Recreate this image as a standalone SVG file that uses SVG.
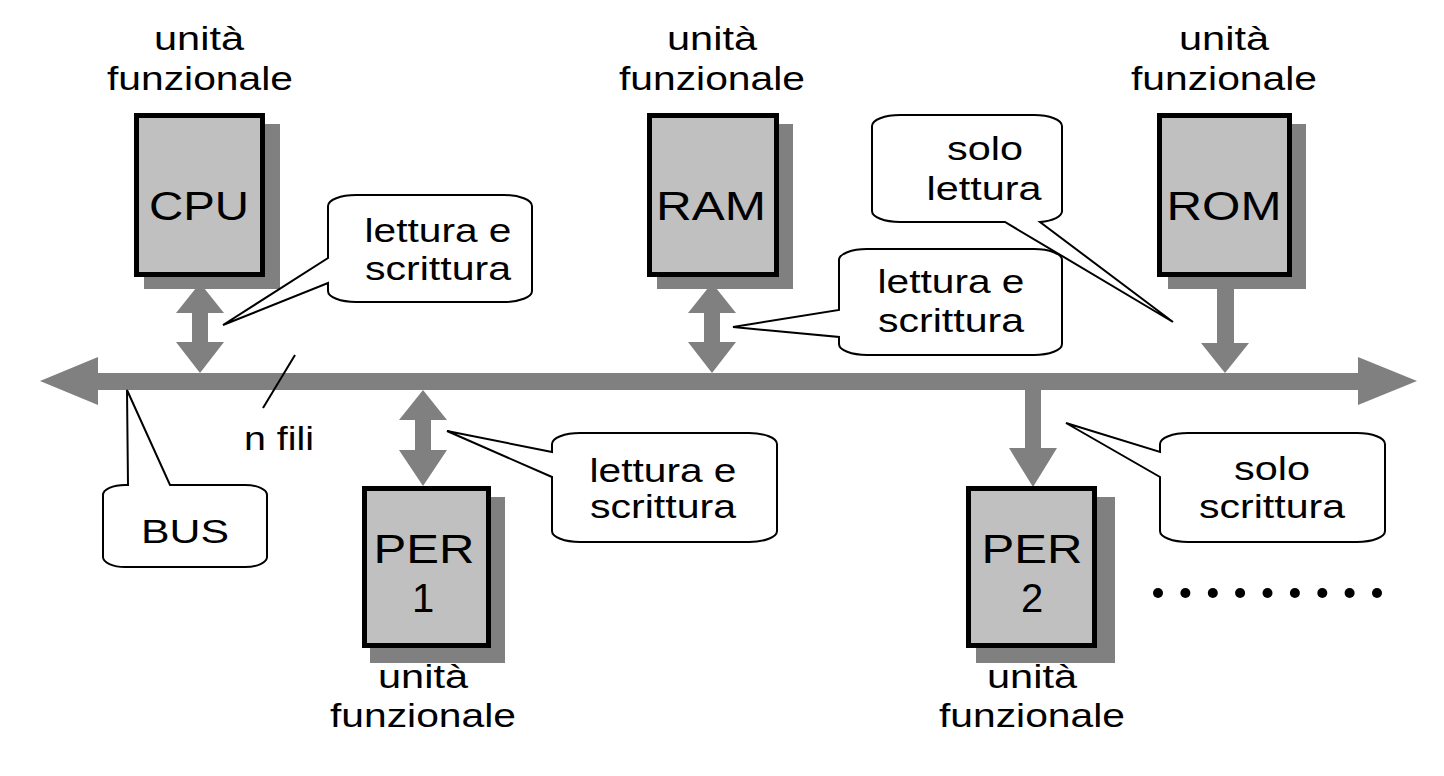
<svg xmlns="http://www.w3.org/2000/svg" width="1444" height="776" viewBox="0 0 1444 776">
<style>
text{font-family:"Liberation Sans",Arial,sans-serif;fill:#000;text-anchor:middle}
.lbl{font-size:33px}
.box{fill:#c0c0c0;stroke:#000;stroke-width:5}
.shadow{fill:#808080}
.bt{font-size:40px}
.co{fill:#fff;stroke:#000;stroke-width:2;stroke-linejoin:miter}
.ct{font-size:34px}
.bus{fill:#808080}
</style>
<rect width="1444" height="776" fill="#fff"/>

<g id="connectors" class="bus">
  <rect x="96" y="373" width="1264" height="17"/>
  <polygon points="40,381 98,357 98,405"/>
  <polygon points="1417,381 1358,357 1358,405"/>
  <polygon points="200,283 224,313 208,313 208,342 224,342 200,373 176,342 192,342 192,313 176,313"/>
  <polygon points="712,283 736,313 720,313 720,342 736,342 712,373 688,342 704,342 704,313 688,313"/>
  <polygon points="1217,277 1234,277 1234,343 1249,343 1225,373 1201,343 1217,343"/>
  <polygon points="423,390 447,420 431,420 431,450 447,450 423,486 399,450 415,450 415,420 399,420"/>
  <polygon points="1025,390 1041,390 1041,448 1057,448 1033,487 1009,448 1025,448"/>
  <line x1="295" y1="355" x2="263" y2="408" stroke="#000" stroke-width="2"/>
</g>

<g id="cpu">
  <text class="lbl" x="199" y="50" textLength="90" lengthAdjust="spacingAndGlyphs">unità</text>
  <text class="lbl" x="200" y="90" textLength="186" lengthAdjust="spacingAndGlyphs">funzionale</text>
  <rect class="shadow" x="144" y="124" width="136" height="165"/>
  <rect class="box" x="136.5" y="115.5" width="126" height="159"/>
  <text class="bt" x="199" y="220" textLength="100" lengthAdjust="spacingAndGlyphs">CPU</text>
</g>

<g id="ram">
  <text class="lbl" x="712" y="50" textLength="90" lengthAdjust="spacingAndGlyphs">unità</text>
  <text class="lbl" x="712" y="90" textLength="186" lengthAdjust="spacingAndGlyphs">funzionale</text>
  <rect class="shadow" x="657" y="124" width="136" height="165"/>
  <rect class="box" x="649.5" y="115.5" width="127" height="159"/>
  <text class="bt" x="711" y="220" textLength="110" lengthAdjust="spacingAndGlyphs">RAM</text>
</g>

<g id="rom">
  <text class="lbl" x="1224" y="50" textLength="90" lengthAdjust="spacingAndGlyphs">unità</text>
  <text class="lbl" x="1224" y="90" textLength="186" lengthAdjust="spacingAndGlyphs">funzionale</text>
  <rect class="shadow" x="1168" y="124" width="138" height="165"/>
  <rect class="box" x="1159.5" y="115.5" width="130" height="159"/>
  <text class="bt" x="1224" y="220" textLength="115" lengthAdjust="spacingAndGlyphs">ROM</text>
</g>

<g id="per1">
  <rect class="shadow" x="370" y="497" width="135" height="166"/>
  <rect class="box" x="364.5" y="488.5" width="124" height="157"/>
  <text class="bt" x="424" y="563" textLength="101" lengthAdjust="spacingAndGlyphs">PER</text>
  <text class="bt" x="423" y="612">1</text>
  <text class="lbl" x="423" y="688" textLength="90" lengthAdjust="spacingAndGlyphs">unità</text>
  <text class="lbl" x="423" y="727" textLength="186" lengthAdjust="spacingAndGlyphs">funzionale</text>
</g>

<g id="per2">
  <rect class="shadow" x="976" y="497" width="139" height="166"/>
  <rect class="box" x="968.5" y="488.5" width="126" height="157"/>
  <text class="bt" x="1032" y="563" textLength="101" lengthAdjust="spacingAndGlyphs">PER</text>
  <text class="bt" x="1032" y="612">2</text>
  <text class="lbl" x="1032" y="688" textLength="90" lengthAdjust="spacingAndGlyphs">unità</text>
  <text class="lbl" x="1032" y="727" textLength="186" lengthAdjust="spacingAndGlyphs">funzionale</text>
</g>

<g id="callout-cpu">
  <path class="co" d="M356,195 H504 A28,11 0 0 1 532,206 V291 A28,11 0 0 1 504,302 H356 A28,11 0 0 1 328,291 V283 L223,325 L328,258 V206 A28,11 0 0 1 356,195 Z"/>
  <text class="ct" x="438" y="242" textLength="147" lengthAdjust="spacingAndGlyphs">lettura e</text>
  <text class="ct" x="438" y="280" textLength="146" lengthAdjust="spacingAndGlyphs">scrittura</text>
</g>

<g id="callout-ram">
  <path class="co" d="M867,249 H1034 A28,11 0 0 1 1062,260 V344 A28,11 0 0 1 1034,355 H867 A28,11 0 0 1 839,344 V337 L733,327 L839,310 V260 A28,11 0 0 1 867,249 Z"/>
  <text class="ct" x="951" y="293" textLength="147" lengthAdjust="spacingAndGlyphs">lettura e</text>
  <text class="ct" x="951" y="332" textLength="146" lengthAdjust="spacingAndGlyphs">scrittura</text>
</g>

<g id="callout-rom">
  <path class="co" d="M900,115 H1034 A28,11 0 0 1 1062,126 V211 A28,11 0 0 1 1040,222 L1173,322 L1005,222 H900 A28,11 0 0 1 872,211 V126 A28,11 0 0 1 900,115 Z"/>
  <text class="ct" x="985" y="160" textLength="76" lengthAdjust="spacingAndGlyphs">solo</text>
  <text class="ct" x="984" y="200" textLength="115" lengthAdjust="spacingAndGlyphs">lettura</text>
</g>

<g id="callout-per1">
  <path class="co" d="M580,433 H749 A28,11 0 0 1 777,444 V531 A28,11 0 0 1 749,542 H580 A28,11 0 0 1 552,531 V477 L447,431 L552,452 V444 A28,11 0 0 1 580,433 Z"/>
  <text class="ct" x="663" y="482" textLength="147" lengthAdjust="spacingAndGlyphs">lettura e</text>
  <text class="ct" x="663" y="518" textLength="146" lengthAdjust="spacingAndGlyphs">scrittura</text>
</g>

<g id="callout-per2">
  <path class="co" d="M1188,433 H1357 A28,11 0 0 1 1385,444 V531 A28,11 0 0 1 1357,542 H1188 A28,11 0 0 1 1160,531 V477 L1066,423 L1160,452 V444 A28,11 0 0 1 1188,433 Z"/>
  <text class="ct" x="1272" y="480" textLength="76" lengthAdjust="spacingAndGlyphs">solo</text>
  <text class="ct" x="1272" y="518" textLength="146" lengthAdjust="spacingAndGlyphs">scrittura</text>
</g>

<g id="callout-bus">
  <path class="co" d="M127,390 L170,485 H245 A22,10 0 0 1 267,495 V557 A22,10 0 0 1 245,567 H125 A22,10 0 0 1 103,557 V495 A22,10 0 0 1 125,485 H128 Z"/>
  <text class="ct" x="185" y="543" textLength="88" lengthAdjust="spacingAndGlyphs">BUS</text>
</g>

<g id="nfili">
  <text class="ct" x="279" y="450" textLength="70" lengthAdjust="spacingAndGlyphs">n fili</text>
</g>

<g id="dots" fill="#000">
  <circle cx="1158" cy="593" r="5"/>
  <circle cx="1185.4" cy="593" r="5"/>
  <circle cx="1212.8" cy="593" r="5"/>
  <circle cx="1240.1" cy="593" r="5"/>
  <circle cx="1267.5" cy="593" r="5"/>
  <circle cx="1294.9" cy="593" r="5"/>
  <circle cx="1322.3" cy="593" r="5"/>
  <circle cx="1349.6" cy="593" r="5"/>
  <circle cx="1377" cy="593" r="5"/>
</g>
</svg>
